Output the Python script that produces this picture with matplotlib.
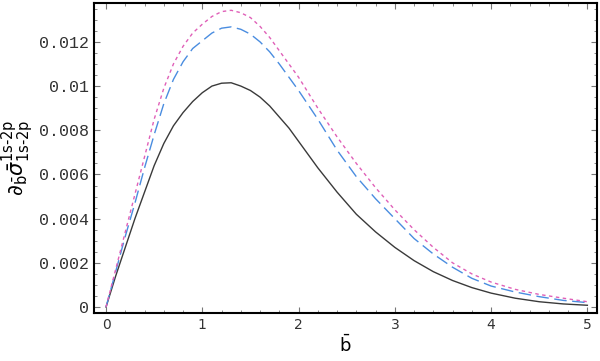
import matplotlib
matplotlib.use("Agg")
import matplotlib.pyplot as plt
from matplotlib.ticker import MultipleLocator, FixedLocator

b = [0, 0.1, 0.2, 0.3, 0.4, 0.5, 0.6, 0.7, 0.8, 0.9, 1.0, 1.1, 1.2, 1.3, 1.4,
     1.5, 1.6, 1.7, 1.8, 1.9, 2.0, 2.2, 2.4, 2.6, 2.8, 3.0, 3.2, 3.4, 3.6,
     3.8, 4.0, 4.25, 4.5, 4.75, 5.0]
solid = [0, 0.0014, 0.0027, 0.0040, 0.0052, 0.0064, 0.0074, 0.0082, 0.0088,
         0.0093, 0.0097, 0.0100, 0.01013, 0.01015, 0.0100, 0.0098, 0.0095,
         0.0091, 0.0086, 0.0081, 0.0075, 0.0063, 0.0052, 0.0042, 0.0034,
         0.0027, 0.0021, 0.0016, 0.0012, 0.00088, 0.00063, 0.0004, 0.00024,
         0.00014, 0.00008]
dashed = [0, 0.0016, 0.0032, 0.0047, 0.0063, 0.0078, 0.0092, 0.0103, 0.0111,
          0.0117, 0.01205, 0.0124, 0.01262, 0.01268, 0.01257, 0.01235, 0.0120,
          0.01155, 0.0110, 0.0104, 0.0098, 0.0085, 0.0071, 0.0059, 0.0049,
          0.0040, 0.0031, 0.0024, 0.0018, 0.0013, 0.00095, 0.00068, 0.00047,
          0.0003, 0.0002]
dotted = [0, 0.0017, 0.0034, 0.0051, 0.0068, 0.0085, 0.0099, 0.0110, 0.0118,
          0.0124, 0.0128, 0.01315, 0.01337, 0.01343, 0.01332, 0.0131, 0.0127,
          0.0122, 0.0116, 0.0110, 0.0104, 0.0090, 0.0077, 0.0065, 0.0054,
          0.0044, 0.0035, 0.0027, 0.0020, 0.0015, 0.00113, 0.0008, 0.00057,
          0.0004, 0.00024]

xticks = [0, 1, 2, 3, 4, 5]
xticklabels = ["0", "1", "2", "3", "4", "5"]
yticks = [0, 0.002, 0.004, 0.006, 0.008, 0.01, 0.012]
yticklabels = ["0", "0.002", "0.004", "0.006", "0.008", "0.01", "0.012"]

plt.rcParams['mathtext.fontset'] = 'dejavusans'
fig = plt.figure(figsize=(6, 3.61), dpi=100)
ax = fig.add_axes([94/600, 48/361, 503/600, 310/361])

ax.plot(b, solid, color='#3a3a3a', lw=1.0)
ax.plot(b, dashed, color='#4a8de0', lw=1.0, dashes=(9, 4))
ax.plot(b, dotted, color='#e060b8', lw=1.0, dashes=(2.5, 2.5))

ax.set_xlim(-0.125, 5.1)
ax.set_ylim(-0.00027, 0.01376)
ax.xaxis.set_major_locator(FixedLocator(xticks))
ax.set_xticklabels(xticklabels, fontsize=10, color='#333333')
ax.yaxis.set_major_locator(FixedLocator(yticks))
ax.set_yticklabels(yticklabels, family='Liberation Mono', fontsize=12, color='#333333')
ax.xaxis.set_minor_locator(MultipleLocator(0.2))
ax.yaxis.set_minor_locator(MultipleLocator(0.0005))
ax.tick_params(which='both', direction='in', top=True, right=True, color='#777777')
ax.tick_params(which='major', length=4, width=0.8)
ax.tick_params(which='minor', length=2, width=0.6)
for s in ax.spines.values():
    s.set_linewidth(1.5)
    s.set_color('black')

ax.set_xlabel(r'$\bar{\mathrm{b}}$', fontsize=13, labelpad=2)
ax.set_ylabel(r'$\partial_{\bar{\mathrm{b}}}\bar{\sigma}^{\text{1s-2p}}_{\text{1s-2p}}$',
              fontsize=15, labelpad=2)

fig.savefig('out.png', dpi=100)
